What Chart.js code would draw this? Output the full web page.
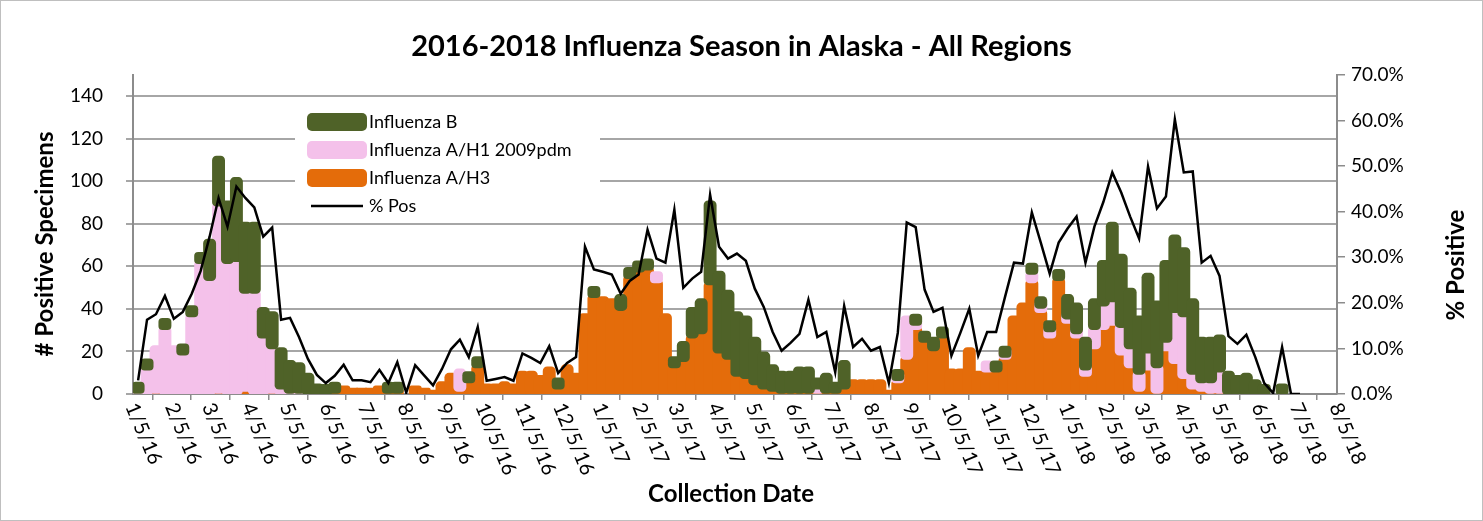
<!DOCTYPE html>
<html>
<head>
<meta charset="utf-8">
<script src="https://cdn.jsdelivr.net/npm/chart.js@4.4.0/dist/chart.umd.min.js"></script>
<style>
html, body { margin: 0; padding: 0; background: #fff; }
</style>
</head>
<body>
<canvas id="flu" width="1483" height="521"></canvas>
<script>
/* Weekly counts, first week ending 1/9/16 */
var firstWeek = '1/9/16';

var fluH3 = [
    0, 0, 1, 0, 0, 0, 0, 0, 0, 1,
    0, 0, 2, 0, 0, 1, 0, 0, 0, 0,
    0, 0, 1, 3, 2, 2, 2, 3, 1, 1,
    0, 3, 2, 1, 5, 9, 2, 6, 13, 4,
    4, 5, 4, 10, 10, 8, 12, 3, 13, 9,
    37, 46, 45, 44, 40, 55, 58, 59, 53, 37,
    13, 16, 27, 29, 52, 20, 17, 9, 8, 5,
    3, 2, 1, 1, 1, 1, 1, 1, 1, 3,
    6, 6, 6, 6, 1, 6, 17, 31, 25, 21,
    27, 11, 11, 21, 10, 11, 11, 17, 36, 42,
    53, 39, 27, 54, 34, 27, 9, 22, 31, 33,
    19, 13, 2, 12, 1, 21, 15, 8, 3, 2,
    1, 1, 0, 0, 0, 0, 0, 0, 0, 0, 0
];

var fluH1 = [
    1, 12, 21, 31, 22, 19, 37, 62, 54, 88,
    62, 63, 46, 48, 27, 21, 3, 1, 1, 0,
    0, 0, 0, 0, 0, 0, 0, 0, 0, 0,
    0, 0, 0, 0, 0, 0, 9, 0, 0, 0,
    0, 0, 0, 0, 0, 0, 0, 0, 0, 0,
    0, 0, 0, 0, 0, 0, 0, 0, 2, 0,
    0, 0, 0, 0, 0, 0, 0, 0, 0, 0,
    0, 0, 0, 0, 0, 0, 2, 0, 0, 0,
    0, 0, 0, 0, 0, 1, 19, 2, 0, 0,
    0, 0, 0, 0, 0, 2, 0, 1, 0, 0,
    4, 2, 3, 0, 2, 2, 3, 9, 11, 11,
    13, 9, 8, 8, 12, 4, 24, 29, 7, 4,
    5, 10, 0, 0, 0, 0, 0, 0, 0, 0, 0
];

var fluB = [
    1, 1, 0, 3, 0, 1, 2, 2, 18, 22,
    28, 38, 32, 32, 13, 16, 18, 14, 13, 9,
    4, 2, 1, 0, 0, 0, 0, 0, 1, 1,
    0, 0, 0, 0, 0, 0, 0, 2, 2, 0,
    0, 0, 0, 0, 0, 0, 0, 2, 0, 0,
    0, 3, 0, 0, 6, 3, 2, 2, 0, 0,
    2, 8, 13, 15, 38, 37, 31, 29, 28, 21,
    16, 11, 9, 9, 11, 11, 2, 8, 1, 12,
    0, 0, 0, 0, 0, 2, 0, 3, 2, 5,
    2, 0, 0, 0, 0, 0, 2, 2, 0, 0,
    3, 4, 3, 3, 10, 13, 14, 13, 20, 36,
    33, 27, 26, 36, 30, 37, 35, 31, 34, 20,
    20, 16, 10, 8, 9, 6, 2, 0, 4, 0, 0
];

/* % of specimens positive */
var pctPos = [
    3, 16.3, 17.5, 21.5, 16.5, 18, 22, 27, 34.5, 43,
    36.7, 45.5, 43, 40.9, 34.5, 36.5, 16.3, 16.7, 12.5, 7.7,
    4.2, 2.4, 4.0, 6.4, 3.0, 3.0, 2.6, 5.3, 2.4, 7.0,
    0.3, 6.3, 4.1, 1.9, 5.5, 9.8, 11.9, 8.1, 14.7, 2.9,
    3.3, 3.7, 2.9, 8.9, 7.9, 6.8, 10.5, 4.6, 6.8, 8.1,
    32.3, 27.3, 26.8, 26.2, 22, 24.8, 26.2, 36, 29.7, 28.8,
    40.4, 23.3, 25.3, 26.8, 43.7, 32.3, 29.7, 30.8, 29.2, 23.1,
    19.1, 13.6, 9.5, 11.2, 13.2, 20.7, 12.5, 13.6, 4.8, 19.3,
    10.3, 12.1, 9.5, 10.3, 2.4, 13.4, 37.6, 36.6, 22.9, 18,
    18.9, 8.4, 13.4, 18.7, 8.4, 13.6, 13.6, 21.3, 28.8, 28.6,
    39.8, 33.2, 26.4, 33.2, 36.3, 38.9, 28.8, 36.7, 42.1, 48.6,
    44.2, 38.9, 34.1, 49.9, 40.7, 43.3, 60.2, 48.6, 48.8, 28.8,
    30.3, 25.9, 12.7, 11, 13, 8.1, 2.4, 0.2, 10.3, 0, 0
];

var tickLabels = [
    '1/5/16', '2/5/16', '3/5/16', '4/5/16', '5/5/16', '6/5/16', '7/5/16', '8/5/16',
    '9/5/16', '10/5/16', '11/5/16', '12/5/16', '1/5/17', '2/5/17', '3/5/17', '4/5/17',
    '5/5/17', '6/5/17', '7/5/17', '8/5/17', '9/5/17', '10/5/17', '11/5/17', '12/5/17',
    '1/5/18', '2/5/18', '3/5/18', '4/5/18', '5/5/18', '6/5/18', '7/5/18', '8/5/18'
];
var countTicks = [0, 20, 40, 60, 80, 100, 120, 140];

/* days from the first axis tick */
var dayOf = function (s) {
    var p = s.split('/');
    return (Date.UTC(2000 + Number(p[2]), p[0] - 1, Number(p[1])) - Date.UTC(2016, 0, 5)) / 86400000;
};

var weekDays = pctPos.map(function (v, i) { return dayOf(firstWeek) + 7 * i; });
var tickDays = tickLabels.map(dayOf);

/* floating segments so Influenza B can be drawn over the others, as in Excel */
var segments = function (arr, below) {
    return arr.map(function (v, i) {
        var base = 0;
        below.forEach(function (b) { base += b[i]; });
        return { x: weekDays[i], y: v === 0 ? null : [base, base + v] };
    });
};

var gridGray = '#a6a6a6';
var axisGray = '#8c8c8c';
var barRadius = { topLeft: 5, topRight: 5, bottomLeft: 5, bottomRight: 5 };

var pagePlugin = {
    id: 'page',
    beforeDraw: function (chart) {
        var ctx = chart.ctx;
        ctx.save();
        ctx.fillStyle = '#fff';
        ctx.fillRect(0, 0, chart.width, chart.height);
        ctx.strokeStyle = '#bfbfbf';
        ctx.lineWidth = 1;
        ctx.strokeRect(0.5, 0.5, chart.width - 1, chart.height - 1);
        ctx.restore();
    },
    afterDraw: function (chart) {
        var ctx = chart.ctx;
        var xs = chart.scales.x;
        var area = chart.chartArea;
        ctx.save();

        /* rotated date labels */
        ctx.fillStyle = '#000';
        ctx.font = '20px Lato';
        ctx.textAlign = 'left';
        ctx.textBaseline = 'middle';
        tickLabels.forEach(function (lab, i) {
            var px = xs.getPixelForValue(tickDays[i]);
            ctx.save();
            ctx.translate(px - 2, area.bottom + 10);
            ctx.rotate(67 * Math.PI / 180);
            ctx.fillText(lab, 0, 0);
            ctx.restore();
        });

        /* axis titles */
        ctx.font = 'bold 24px Lato';
        ctx.textAlign = 'center';
        ctx.fillText('Collection Date', 731, 494);
        ctx.save();
        ctx.translate(45, 244);
        ctx.rotate(-Math.PI / 2);
        ctx.fillText('# Positive Specimens', 0, 0);
        ctx.restore();
        ctx.save();
        ctx.translate(1456, 265);
        ctx.rotate(-Math.PI / 2);
        ctx.fillText('% Positive', 0, 0);
        ctx.restore();

        /* legend box */
        var order = [3, 2, 1, 0];
        ctx.fillStyle = '#fff';
        ctx.fillRect(295, 100, 305, 116);
        ctx.font = '18px Lato';
        ctx.textAlign = 'left';
        order.forEach(function (k, n) {
            var ds = chart.data.datasets[k];
            var yc = 122 + n * 28;
            if (ds.type === 'line') {
                ctx.strokeStyle = ds.borderColor;
                ctx.lineWidth = 2.5;
                ctx.beginPath();
                ctx.moveTo(311, yc);
                ctx.lineTo(363, yc);
                ctx.stroke();
            } else {
                ctx.fillStyle = ds.backgroundColor;
                ctx.beginPath();
                ctx.roundRect(307, yc - 9, 60, 18, 5);
                ctx.fill();
            }
            ctx.fillStyle = '#000';
            ctx.fillText(ds.label, 369, yc);
        });
        ctx.restore();
    }
};

var chartFlu = new Chart(document.getElementById('flu'), {
    type: 'bar',
    data: {
        datasets: [
            {
                type: 'line',
                label: '% Pos',
                data: pctPos.map(function (v, i) { return { x: weekDays[i], y: v }; }),
                yAxisID: 'y1',
                borderColor: '#000000',
                borderWidth: 2.5,
                pointRadius: 0,
                tension: 0,
                order: 0
            },
            {
                label: 'Influenza A/H3',
                data: segments(fluH3, []),
                backgroundColor: '#e46c0a',
                order: 3
            },
            {
                label: 'Influenza A/H1 2009pdm',
                data: segments(fluH1, [fluH3]),
                backgroundColor: '#f4c1ea',
                minBarLength: 8,
                order: 2
            },
            {
                label: 'Influenza B',
                data: segments(fluB, [fluH3, fluH1]),
                backgroundColor: '#4f6228',
                minBarLength: 8,
                order: 1
            }
        ]
    },
    options: {
        responsive: false,
        maintainAspectRatio: false,
        animation: false,
        devicePixelRatio: 1,
        layout: { padding: 0 },
        datasets: {
            bar: {
                grouped: false,
                barPercentage: 1,
                categoryPercentage: 1,
                borderRadius: barRadius,
                borderSkipped: false,
                inflateAmount: 2
            }
        },
        plugins: {
            legend: { display: false },
            tooltip: { enabled: false },
            title: {
                display: true,
                text: '2016-2018 Influenza Season in Alaska - All Regions',
                color: '#000',
                font: { family: 'Lato', size: 29, weight: 'bold' },
                padding: { top: 29, bottom: 11 }
            }
        },
        scales: {
            x: {
                type: 'linear',
                min: 0,
                max: tickDays[tickDays.length - 1],
                offset: false,
                afterBuildTicks: function (s) {
                    s.ticks = tickDays.map(function (d) { return { value: d }; });
                },
                afterFit: function (s) { s.height = 127; },
                ticks: { display: false },
                grid: { drawOnChartArea: false, drawTicks: true, tickLength: 6, color: axisGray, lineWidth: 1.5 },
                border: { color: axisGray, width: 2 }
            },
            y: {
                position: 'left',
                min: 0,
                max: 150,
                afterBuildTicks: function (s) {
                    s.ticks = countTicks.map(function (v) { return { value: v }; });
                },
                afterFit: function (s) { s.width = 133; },
                ticks: { color: '#000', font: { family: 'Lato', size: 19 }, padding: 23 },
                grid: { color: gridGray, lineWidth: 2, tickLength: 7 },
                border: { color: axisGray, width: 2 }
            },
            y1: {
                position: 'right',
                min: 0,
                max: 70,
                afterFit: function (s) { s.width = 146; },
                ticks: {
                    stepSize: 10,
                    color: '#000',
                    font: { family: 'Lato', size: 19 },
                    padding: 6,
                    callback: function (v) { return v.toFixed(1) + '%'; }
                },
                grid: { drawOnChartArea: false, tickLength: 8, color: axisGray, lineWidth: 1.5 },
                border: { color: axisGray, width: 2 }
            }
        }
    },
    plugins: [pagePlugin]
});
</script>
</body>
</html>
